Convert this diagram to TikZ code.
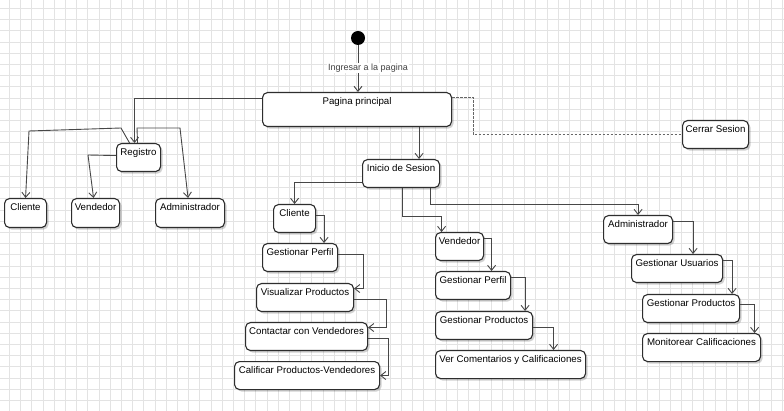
\documentclass[tikz,border=0pt]{standalone}
\usepackage{fontspec}
\setmainfont{Liberation Sans}
\usetikzlibrary{arrows.meta,shadows}

\tikzset{
  box/.style={draw=black!82, line width=1.1pt, rounded corners=5pt, fill=white,
    anchor=north west, inner xsep=0pt, inner ysep=0pt, text height=12pt, text depth=16pt,
    font=\fontsize{9.7}{11}\selectfont,
    drop shadow={shadow xshift=2pt, shadow yshift=-2pt, opacity=0.18, fill=black}},
  gridline/.style={black!11, line width=0.5pt},
  flow/.style={draw=black!72, line width=0.9pt, ->},
  salida/.style={draw=black!60, line width=0.9pt, dash pattern=on 2.5pt off 1.5pt},
}

\begin{document}
\begin{tikzpicture}[x=1pt, y=-1pt, >={Straight Barb[length=5pt,width=8pt]}]
\useasboundingbox (0,0) rectangle (784,411);

%Grid
\fill[white] (0,0) rectangle (784,411);
\foreach \i in {0,...,69} \draw[gridline] ({9.3+11.2*\i},0) -- ++(0,411);
\foreach \j in {0,...,35} \draw[gridline] (0,{8.3+11.2*\j}) -- ++(784,0);

%Start
\node (inicio) at (358,38) [circle, fill=black, minimum size=14pt, inner sep=0pt] {};

%Boxes
\node (pag) at (262,92) [box, minimum width=189, text depth=22pt] {Pagina principal};
\node (reg) at (116,143) [box, minimum width=44] {Registro};
\node (cliR) at (4,198) [box, minimum width=42, text depth=17pt] {Cliente};
\node (venR) at (71,198) [box, minimum width=48, text depth=17pt] {Vendedor};
\node (admR) at (155,198) [box, minimum width=69, text depth=17pt] {Administrador};
\node (ini) at (362,159) [box, minimum width=77] {Inicio de Sesion};
\node (cer) at (682,120) [box, minimum width=66] {Cerrar Sesion};

\node (cliC) at (273,204) [box, minimum width=42] {Cliente};
\node (gpC) at (262,243) [box, minimum width=75] {Gestionar Perfil};
\node (vis) at (256,283) [box, minimum width=97] {Visualizar Productos};
\node (con) at (245,322) [box, minimum width=122] {Contactar con Vendedores};
\node (cal) at (234,361) [box, minimum width=145] {Calificar Productos-Vendedores};

\node (venC) at (435,232) [box, minimum width=48] {Vendedor};
\node (gpV) at (435,271) [box, minimum width=75] {Gestionar Perfil};
\node (gprV) at (435,311) [box, minimum width=97] {Gestionar Productos};
\node (ver) at (435,350) [box, minimum width=150] {Ver Comentarios y Calificaciones};

\node (admC) at (603,215) [box, minimum width=69] {Administrador};
\node (gu) at (631,254) [box, minimum width=91] {Gestionar Usuarios};
\node (gprA) at (642,294) [box, minimum width=97] {Gestionar Productos};
\node (mon) at (642,333) [box, minimum width=118] {Monitorear Calificaciones};

%Arrows
\draw [flow] (inicio) -- (inicio |- pag.north)
  node (ingresar) at (368,68) [fill=white, inner sep=1pt, text=black!75,
    font=\fontsize{9}{10}\selectfont] {Ingresar a la pagina};
%Registro
\draw [flow] ([yshift=-6pt]pag.north west) -| ([xshift=-4pt]reg.north);
\draw [flow] ([xshift=-9pt]reg.north) -- (121,128) -- (29,131) -- (cliR.north);
\draw [flow] ([yshift=2pt]reg.west) -- (88,155) -- ([xshift=-2pt]venR.north);
\draw [flow] ([xshift=-1pt]reg.north) -- (137,128) -- (180,128) -- ([xshift=-2pt]admR.north);
%Sesion
\draw [flow] ([xshift=62pt]pag.south) -- ([xshift=62pt]pag.south |- ini.north);
\draw [flow] ([yshift=-9pt]ini.west) -| (cliC.north);
\draw [flow] ([xshift=1pt]ini.south) -- ++(0,28) -| ([xshift=-18pt]venC.north);
\draw [flow] ([xshift=29pt]ini.south) -- ++(0,16) -| (admC.north);
\draw [salida] ([yshift=-5pt]pag.north east) -- (473,97) |- (cer.west);
%Cliente
\draw [flow] ([yshift=3pt]cliC.east) -| ([xshift=24pt]gpC.north);
\draw [flow] ([yshift=3pt]gpC.east) -- ++(25,0) |- ([yshift=9pt]vis.east);
\draw [flow] ([yshift=-2pt]vis.east) -- ++(32,0) |- ([yshift=9pt]con.east);
\draw [flow] ([yshift=-2pt]con.east) -- ++(20,0) |- (cal.east);
%Vendedor
\draw [flow] ([yshift=8pt]venC.east) -| ([xshift=18.5pt]gpV.north);
\draw [flow] ([yshift=8pt]gpV.east) -| ([xshift=41pt]gprV.north);
\draw [flow] ([yshift=-2pt]gprV.east) -| ([xshift=43pt]ver.north);
%Administrador
\draw [flow] ([yshift=8pt]admC.east) -| ([xshift=16pt]gu.north);
\draw [flow] ([yshift=8pt]gu.east) -| ([xshift=41pt]gprA.north);
\draw [flow] ([yshift=4pt]gprA.east) -| ([xshift=53pt]mon.north);

\end{tikzpicture}
\end{document}
